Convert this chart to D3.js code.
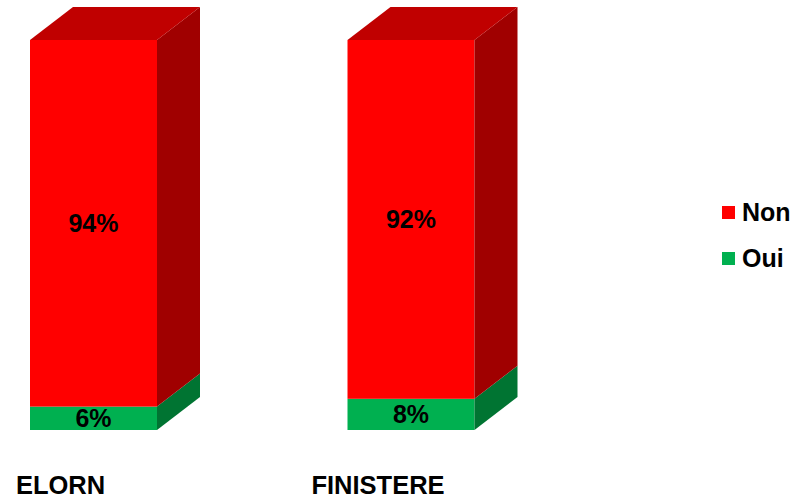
<!DOCTYPE html>
<html><head><meta charset="utf-8">
<script src="https://cdn.jsdelivr.net/npm/d3@7"></script>
<style>html,body{margin:0;padding:0;background:#fff;}svg{display:block;}</style>
</head><body>
<svg id="chart" width="795" height="499"></svg>
<script>
const categories = ["ELORN", "FINISTERE"];
const seriesNames = ["Oui", "Non"];
const oui = [0.06, 0.08];
const non = [0.94, 0.92];
const labelsOui = ["6%", "8%"];
const labelsNon = ["94%", "92%"];
const legendOrder = ["Non", "Oui"];

const colors = {
  Non: {front: "#FF0000", side: "#A00000", top: "#C00000"},
  Oui: {front: "#00B050", side: "#007432", top: "#009040"}
};

const svg = d3.select("#chart");
const font = "'Liberation Sans', Arial, sans-serif";
const dx = 43, dy = 33;

const x = d3.scaleBand().domain(categories).range([30, 474.5]).paddingInner(0.6).paddingOuter(0);
const y = d3.scaleLinear().domain([0, 1]).range([430, 40]);
const w = x.bandwidth();

const values = {Oui: oui, Non: non};
const labels = {Oui: labelsOui, Non: labelsNon};

categories.forEach((cat, i) => {
  const g = svg.append("g");
  let base = 0;
  const x0 = x(cat);
  seriesNames.forEach((s, si) => {
    const v = values[s][i];
    const yb = y(base), yt = y(base + v);
    const c = colors[s];
    g.append("rect").attr("x", x0).attr("y", yt).attr("width", w).attr("height", yb - yt).attr("fill", c.front);
    g.append("polygon").attr("points", [
      [x0 + w, yb], [x0 + w + dx, yb - dy], [x0 + w + dx, yt - dy], [x0 + w, yt]
    ].map(p => p.join(",")).join(" ")).attr("fill", c.side);
    if (si === seriesNames.length - 1) {
      g.append("polygon").attr("points", [
        [x0, yt], [x0 + dx, yt - dy], [x0 + w + dx, yt - dy], [x0 + w, yt]
      ].map(p => p.join(",")).join(" ")).attr("fill", c.top);
    }
    g.append("text").attr("x", x0 + w / 2).attr("y", (yb + yt) / 2 + 8.5)
      .attr("text-anchor", "middle").attr("font-family", font).attr("font-weight", "bold")
      .attr("font-size", 25).attr("fill", "#000").text(labels[s][i]);
    base += v;
  });
  svg.append("text").attr("x", x0 + w / 2 - 33).attr("y", 494)
    .attr("text-anchor", "middle").attr("font-family", font).attr("font-weight", "bold")
    .attr("font-size", 25.5).attr("fill", "#000").text(cat);
});

const legend = svg.append("g");
legendOrder.forEach((s, i) => {
  const ly = 206 + i * 46;
  legend.append("rect").attr("x", 722).attr("y", ly).attr("width", 13).attr("height", 13).attr("fill", colors[s].front);
  legend.append("text").attr("x", 742).attr("y", ly + 15).attr("font-family", font).attr("font-weight", "bold")
    .attr("font-size", 25).attr("fill", "#000").text(s);
});
</script>
</body></html>
